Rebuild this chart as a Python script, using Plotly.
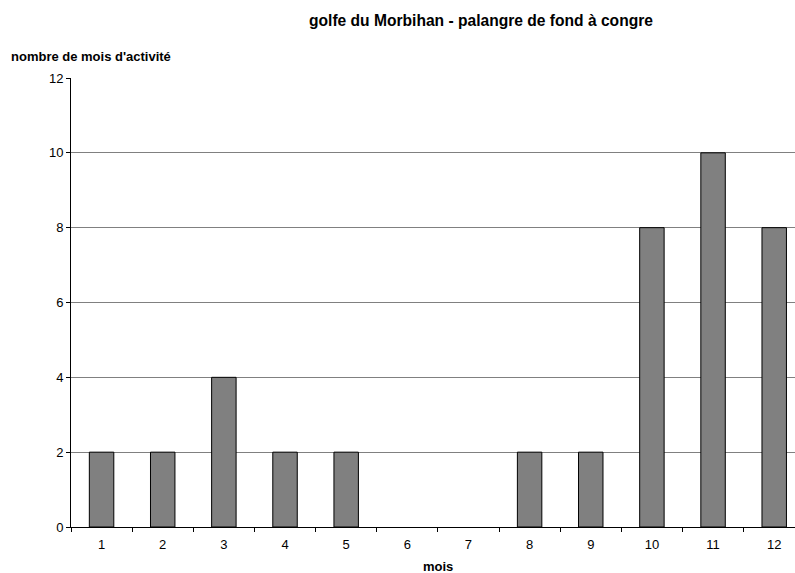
import plotly.graph_objects as go

months = ["1", "2", "3", "4", "5", "6", "7", "8", "9", "10", "11", "12"]
activity = [2, 2, 4, 2, 2, 0, 0, 2, 2, 8, 10, 8]
y_ticks = [0, 2, 4, 6, 8, 10, 12]

FONT = "Liberation Sans, Arial, sans-serif"

fig = go.Figure()
fig.add_trace(go.Bar(
    x=months, y=activity, width=0.4,
    marker=dict(color="#808080",
                line=dict(color="#000000", width=[1 if v else 0 for v in activity])),
))

L, R, T, B = 71, 0, 78, 46
PW, PH = 795 - L - R, 573 - T - B

fig.update_layout(
    width=795, height=573,
    margin=dict(l=L, r=R, t=T, b=B),
    paper_bgcolor="white", plot_bgcolor="white",
    showlegend=False,
    font=dict(family=FONT, size=13, color="black"),
    annotations=[
        dict(text="<b>golfe du Morbihan - palangre de fond à congre</b>",
             xref="paper", yref="paper", x=(481 - L) / PW, y=1 + (T - 20) / PH,
             xanchor="center", yanchor="middle", showarrow=False,
             font=dict(family=FONT, size=15.6, color="black")),
        dict(text="<b>nombre de mois d'activité</b>",
             xref="paper", yref="paper", x=-(L - 9) / PW, y=1 + (T - 57) / PH,
             xanchor="left", yanchor="middle", showarrow=False,
             font=dict(family=FONT, size=13, color="black")),
        dict(text="<b>mois</b>",
             xref="paper", yref="paper", x=(437.5 - L) / PW, y=-(566.5 - (T + PH)) / PH,
             xanchor="center", yanchor="middle", showarrow=False,
             font=dict(family=FONT, size=13, color="black")),
    ],
)

fig.update_xaxes(
    type="category", range=[-0.5, 11.34],
    showline=True, linecolor="black", linewidth=1,
    ticks="outside", ticklen=4, tickcolor="black", tickson="boundaries",
    ticklabelstandoff=5,
    showgrid=False, zeroline=False,
    tickfont=dict(family=FONT, size=13, color="black"),
)
fig.update_yaxes(
    range=[0, 12], tickvals=y_ticks,
    showline=True, linecolor="black", linewidth=1,
    ticks="outside", ticklen=4, tickcolor="black",
    showgrid=True, gridcolor="#808080", gridwidth=1, zeroline=False,
    tickfont=dict(family=FONT, size=13, color="black"),
)

fig.write_html("out.html", config={"displayModeBar": False},
               post_script="document.body.style.margin='0';")
